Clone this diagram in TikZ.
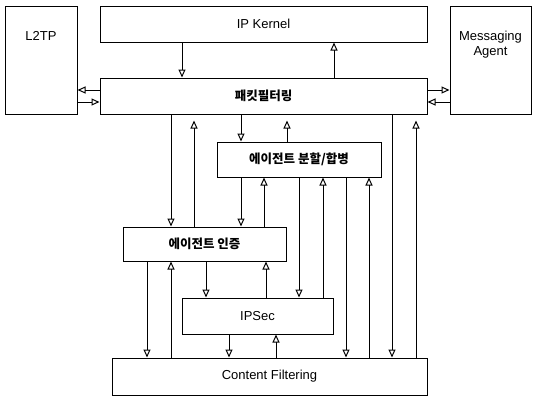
\documentclass[tikz,border=0pt]{standalone}
\usepackage{fontspec}
\setmainfont{Liberation Sans}
\newfontfamily\kr{Noto Sans CJK KR}
\usetikzlibrary{arrows.meta}
\begin{document}
\begin{tikzpicture}[x=1pt,y=-1pt,
  box/.style={draw, line width=1pt, inner sep=0pt, rectangle},
  arr/.style={line width=0.9pt, -{Triangle[open, length=8pt, width=7pt, line width=1pt]}},
  lat/.style={font=\fontsize{13}{15.5}\selectfont},
  kor/.style={font=\kr\bfseries\fontsize{12.5}{14}\selectfont}]
\useasboundingbox (0,0) rectangle (536,397);
% boxes
\node[box, minimum width=72pt, minimum height=108pt,
  label={[name=l2tplbl, lat, anchor=center, yshift=-30pt]north:L2TP}] (L2TP) at (41,60) {};
\node[box, lat, minimum width=327pt, minimum height=36pt] (IPK) at (263.5,24) {IP Kernel};
\node[box, minimum width=81pt, minimum height=108pt,
  label={[name=msglbl, lat, align=center, anchor=center, yshift=-39pt]north:Messaging\\Agent}] (MSG) at (490.5,60) {};
\node[box, kor, minimum width=327pt, minimum height=36pt] (PF) at (263.5,96) {패킷필터링};
\node[box, kor, minimum width=164pt, minimum height=35pt] (SPLIT) at (299,159.5) {에이전트 분할/합병};
\node[box, kor, minimum width=163pt, minimum height=34pt] (AUTH) at (204.5,244) {에이전트 인증};
\node[box, lat, minimum width=151pt, minimum height=36pt] (IPSEC) at (257.5,316) {IPSec};
\node[box, lat, minimum width=315pt, minimum height=37pt] (CF) at (269.5,376.5) {Content Filtering};
% horizontal arrows
\draw[arr] (PF.west |- 0,90) -- (L2TP.east |- 0,90);
\draw[arr] (L2TP.east |- 0,102) -- (PF.west |- 0,102);
\draw[arr] (PF.east |- 0,90) -- (MSG.west |- 0,90);
\draw[arr] (MSG.west |- 0,102) -- (PF.east |- 0,102);
% down arrows
\draw[arr] (IPK.south -| 182,0) -- (PF.north -| 182,0);
\draw[arr] (PF.south -| 171,0) -- (AUTH.north -| 171,0);
\draw[arr] (PF.south -| 241,0) -- (SPLIT.north -| 241,0);
\draw[arr] (PF.south -| 392,0) -- (CF.north -| 392,0);
\draw[arr] (SPLIT.south -| 241,0) -- (AUTH.north -| 241,0);
\draw[arr] (SPLIT.south -| 299,0) -- (IPSEC.north -| 299,0);
\draw[arr] (SPLIT.south -| 346,0) -- (CF.north -| 346,0);
\draw[arr] (AUTH.south -| 147,0) -- (CF.north -| 147,0);
\draw[arr] (AUTH.south -| 206,0) -- (IPSEC.north -| 206,0);
\draw[arr] (IPSEC.south -| 229,0) -- (CF.north -| 229,0);
% up arrows
\draw[arr] (PF.north -| 334,0) -- (IPK.south -| 334,0);
\draw[arr, shorten >=6pt] (AUTH.north -| 194,0) -- (PF.south -| 194,0);
\draw[arr, shorten >=6pt] (SPLIT.north -| 287,0) -- (PF.south -| 287,0);
\draw[arr, shorten >=6pt] (CF.north -| 416,0) -- (PF.south -| 416,0);
\draw[arr] (AUTH.north -| 264,0) -- (SPLIT.south -| 264,0);
\draw[arr] (IPSEC.north -| 323,0) -- (SPLIT.south -| 323,0);
\draw[arr] (CF.north -| 369,0) -- (SPLIT.south -| 369,0);
\draw[arr] (CF.north -| 171,0) -- (AUTH.south -| 171,0);
\draw[arr] (IPSEC.north -| 266,0) -- (AUTH.south -| 266,0);
\draw[arr] (CF.north -| 276,0) -- (IPSEC.south -| 276,0);
\end{tikzpicture}
\end{document}
